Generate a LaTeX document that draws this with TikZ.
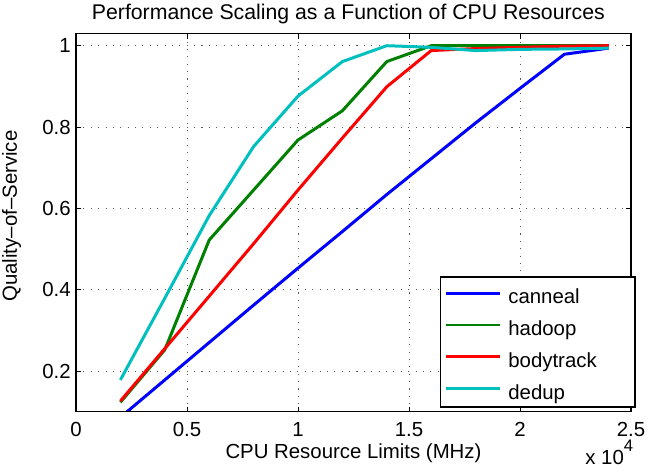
\documentclass[tikz,border=0pt]{standalone}
\usepackage{fontspec}
\setmainfont{Liberation Sans}
\usepackage{tikz}

\definecolor{mblue}{rgb}{0,0,1}
\definecolor{mgreen}{rgb}{0,0.5,0}
\definecolor{mred}{rgb}{1,0,0}
\definecolor{mcyan}{rgb}{0,0.75,0.75}

\tikzset{
  gridline/.style={black!65, line width=0.4pt, dash pattern=on 0.6pt off 3.6pt},
  dataline/.style={line width=1.7pt, line join=round},
  legtext/.style={anchor=base west, inner sep=0pt, yshift=-0.214cm},
}

\begin{document}
\begin{tikzpicture}[x=4.44cm, y=8.132cm, font=\fontsize{11.6}{13.9}\selectfont]
\useasboundingbox (-0.3423,-0.0509) rectangle (2.5901,1.1124);
% grid
\foreach \gx in {0.5,1,1.5,2}
  \draw[gridline] (\gx,0.1) -- (\gx,1.03);
\foreach \gy in {0.2,0.4,0.6,0.8,1}
  \draw[gridline] (0,\gy) -- (2.5,\gy);
% curves
\begin{scope}
\clip (0,0.1) rectangle (2.5,1.03);
\draw[dataline, color=mblue] plot coordinates {(0.2,0.086) (0.4,0.178) (0.6,0.270)
    (0.8,0.362) (1.0,0.453) (1.2,0.543) (1.4,0.634) (1.6,0.722) (1.8,0.810)
    (2.0,0.895) (2.2,0.979) (2.4,0.994)};
\draw[dataline, color=mgreen] plot coordinates {(0.2,0.123) (0.4,0.252) (0.6,0.522)
    (0.8,0.645) (1.0,0.768) (1.2,0.840) (1.4,0.961) (1.6,1.0) (1.8,1.0)
    (2.0,1.0) (2.2,1.0) (2.4,1.0)};
\draw[dataline, color=mred] plot coordinates {(0.2,0.126) (0.4,0.255) (0.6,0.384)
    (0.8,0.513) (1.0,0.645) (1.2,0.773) (1.4,0.899) (1.6,0.988) (1.8,0.993)
    (2.0,0.996) (2.2,0.999) (2.4,1.0)};
\draw[dataline, color=mcyan] plot coordinates {(0.2,0.178) (0.4,0.379) (0.6,0.582)
    (0.8,0.752) (1.0,0.876) (1.2,0.961) (1.4,1.0) (1.6,0.996) (1.8,0.988)
    (2.0,0.991) (2.2,0.992) (2.4,0.994)};
\end{scope}
% box and ticks
\draw[line width=0.7pt] (0,0.1) rectangle (2.5,1.03);
\foreach \gx [count=\i] in {0,0.5,1,1.5,2,2.5} {
  \draw[line width=0.5pt] (\gx,0.1) -- ++(0pt,0.1cm);
  \draw[line width=0.5pt] (\gx,1.03) -- ++(0pt,-0.1cm);
  \node[anchor=base, inner sep=0pt] (xt\i) at (\gx,0.040) {\gx};
}
\foreach \gy/\lab [count=\i] in {0.2/0.2,0.4/0.4,0.6/0.6,0.8/0.8,1/1} {
  \draw[line width=0.5pt] (0,\gy) -- ++(0.1cm,0pt);
  \draw[line width=0.5pt] (2.5,\gy) -- ++(-0.1cm,0pt);
  \node[anchor=east, inner sep=0pt] (yt\i) at (-0.0225,\gy) {\lab};
}
% labels
\node[anchor=base, font=\fontsize{12.1}{14.5}\selectfont] (title) at (1.227,1.0633)
    {Performance Scaling as a Function of CPU Resources};
\node[anchor=base] (xlabel) at (1.25,-0.0164) {CPU Resource Limits (MHz)};
\node[anchor=base, rotate=90, inner sep=0pt] (ylabel) at (-0.266,0.581) {Quality--of--Service};
\node[anchor=base west, inner sep=0pt] (xscale) at (2.293,-0.0312)
    {x 10\raisebox{7.4pt}{\fontsize{9.5}{11}\selectfont 4}};
% legend
\draw[fill=white, line width=0.7pt] (1.6419,0.1115) rectangle (2.518,0.4312);
\foreach \col/\nm [count=\i] in {mblue/canneal,mgreen/hadoop,mred/bodytrack,mcyan/dedup} {
  \pgfmathsetmacro{\ly}{0.3911-(\i-1)*0.078}
  \draw[dataline, color=\col] (1.667,\ly) -- (1.910,\ly);
  \node[legtext] (leg\i) at (1.946,\ly) {\nm};
}
\end{tikzpicture}
\end{document}
